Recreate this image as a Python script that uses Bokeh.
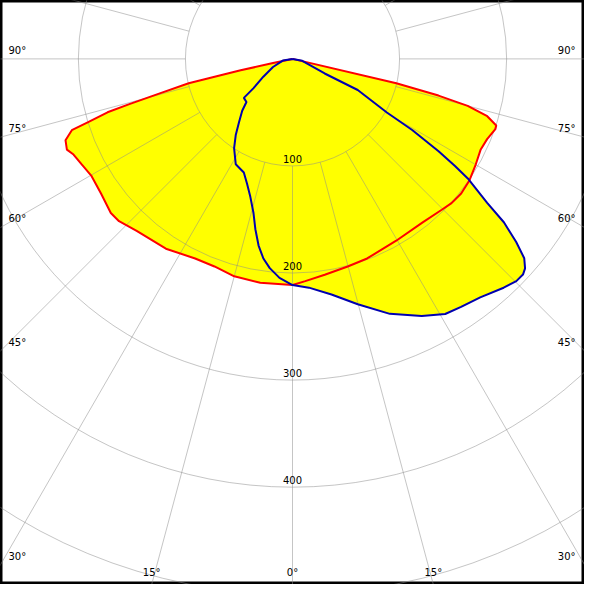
import numpy as np
from bokeh.plotting import figure
from bokeh.models import Range1d
from bokeh.embed import file_html
from bokeh.resources import INLINE
from bokeh.core.properties import value

# ---- data (gamma in degrees, negative = left half-plane; intensity in cd/klm) ----
red_gamma = [-90, -77.9, -77.6, -76.8, -75.3, -74.5, -73.9, -72.8, -72.1, -70.3, -68.1,
             -66.4, -63.4, -59.9, -54.9, -49.7, -46.9, -42.2, -33.7, -26.0, -20.6, -15.0,
             -8.2, 0, 3.3, 8.5, 14.9, 20.5, 29.7, 38.4, 44.7, 47.8, 51.4, 55.5, 60.1, 64.2,
             67.6, 70.9, 71.9, 73.6, 75.0, 75.9, 76.8, 90]
red_cd = [0, 18.6, 49.6, 99.6, 131.6, 158.8, 179.8, 199.8, 216.6, 225.2, 227.1,
          223.2, 220.2, 217.3, 218.6, 222.5, 221.9, 216.7, 213.1, 207.4, 207.1, 210.2,
          211.3, 211.2, 207.9, 203.8, 200.6, 199.0, 195.5, 195.2, 198.2, 200.5, 201.6, 200.5, 197.5, 195.1,
          196.6, 200.5, 200.2, 189.6, 169.4, 140.6, 99.6, 0]

blue_gamma = [-90, -80.4, -67.5, -58.6, -53.1, -51.3, -46.9, -44.1, -40.2, -36.7, -33.2,
              -28.3, -23.2, -20.0, -17.0, -14.2, -12.3, -10.3, -8.3, -6.2, -3.4, 0,
              4.1, 9.4, 14.9, 20.9, 26.7, 30.9, 34.2, 38.2, 42.7, 45.2, 46.9, 48, 49.3,
              50.7, 52.3, 53.5, 55.7, 56.6, 57.7, 59.3, 60.4, 64.5, 65.6, 78.7, 90]
blue_cd = [0, 9.2, 19.7, 31.9, 45.5, 58.2, 58.9, 67.5, 77.4, 88.7, 99.6,
           111.8, 115.4, 124.1, 134.7, 148.5, 162.8, 177.2, 188.4, 196.6, 204.9, 211.2,
           214.2, 223, 237.1, 254.9, 268.7, 277.7, 280.1, 283.5, 290.8, 294.6, 294.8, 292.3, 285.5,
           270, 249.5, 226.2, 198.2, 181.8, 161.4, 130, 101.4, 67.5, 33, 9.3, 0]

ring_values = [100, 200, 300, 400, 500, 600]
ring_labels = ["100", "200", "300", "400"]
angle_ticks = [0, 15, 30, 45, 60, 75, 90]
angle_labels = ["0°", "15°", "30°", "45°", "60°", "75°", "90°"]

# ---- layout ----
SCALE = 1.1          # reference pixels per cd/klm
W = 584
x0, x1 = -300 / SCALE, 300 / SCALE
y0, y1 = -540 / SCALE, 60 / SCALE
upp = (x1 - x0) / W  # data units per screen pixel


def polar(g, r):
    g = np.radians(np.asarray(g, dtype=float))
    r = np.asarray(r, dtype=float)
    return r * np.sin(g), -r * np.cos(g)


p = figure(width=W, height=W, x_range=Range1d(x0, x1), y_range=Range1d(y0, y1),
           output_backend="svg", toolbar_location=None,
           x_axis_type=None, y_axis_type=None, min_border=0)
p.grid.visible = False
p.outline_line_color = "black"
p.outline_line_width = 4
p.background_fill_color = "white"
p.border_fill_color = "white"

rx, ry = polar(red_gamma, red_cd)
bx, by = polar(blue_gamma, blue_cd)

YELLOW = "#ffff00"
p.patch(rx, ry, fill_color=YELLOW, line_color=None)
p.patch(bx, by, fill_color=YELLOW, line_color=None)

GRID = "#8c8c8c"
GA = 0.5
n = len(ring_values)
p.circle(x=[0] * n, y=[0] * n, radius=ring_values, fill_color=None,
         line_color=GRID, line_alpha=GA, line_width=1)

ray_angles = np.arange(0, 360, 15)
sx, sy = polar(ray_angles, [100] * len(ray_angles))
ex, ey = polar(ray_angles, [900] * len(ray_angles))
p.segment(sx, sy, ex, ey, line_color=GRID, line_alpha=GA, line_width=1)

p.line(rx, ry, line_color="#ff0000", line_width=2)
p.line(bx, by, line_color="#0000b0", line_width=2)

FONT = value("DejaVu Sans")
FS = "10px"

m = len(ring_labels)
p.text(x=[0] * m, y=[-v + 3 * upp for v in ring_values[:m]], text=ring_labels,
       text_align="center", text_baseline="bottom", text_font=FONT,
       text_font_size=FS, text_color="black")

lx, ly, lt, la = [], [], [], []
bxs, bys, bts = [], [], []
for g, lab in zip(angle_ticks, angle_labels):
    s, c = np.sin(np.radians(g)), np.cos(np.radians(g))
    t_side = (-x0) / s if s > 1e-9 else np.inf
    t_bot = (-y0) / c if c > 1e-9 else np.inf
    if t_side < t_bot:
        yy = -t_side * c + 3 * upp
        lx.append(x0 + 8 * upp); ly.append(yy); lt.append(lab); la.append("left")
        lx.append(x1 - 9 * upp); ly.append(yy); lt.append(lab); la.append("right")
    else:
        xb = t_bot * s
        ys = y0 + 7 * upp
        if g == 0:
            bxs.append(0.0); bys.append(ys); bts.append(lab)
        else:
            bxs += [-xb, xb]; bys += [ys, ys]; bts += [lab, lab]

left_idx = [i for i, a in enumerate(la) if a == "left"]
right_idx = [i for i, a in enumerate(la) if a == "right"]
p.text(x=[lx[i] for i in left_idx], y=[ly[i] for i in left_idx], text=[lt[i] for i in left_idx],
       text_align="left", text_baseline="bottom", text_font=FONT, text_font_size=FS,
       text_color="black")
p.text(x=[lx[i] for i in right_idx], y=[ly[i] for i in right_idx], text=[lt[i] for i in right_idx],
       text_align="right", text_baseline="bottom", text_font=FONT, text_font_size=FS,
       text_color="black")
p.text(x=bxs, y=bys, text=bts, text_align="center", text_baseline="bottom",
       text_font=FONT, text_font_size=FS, text_color="black")

open("out.html", "w").write(file_html(p, INLINE))
